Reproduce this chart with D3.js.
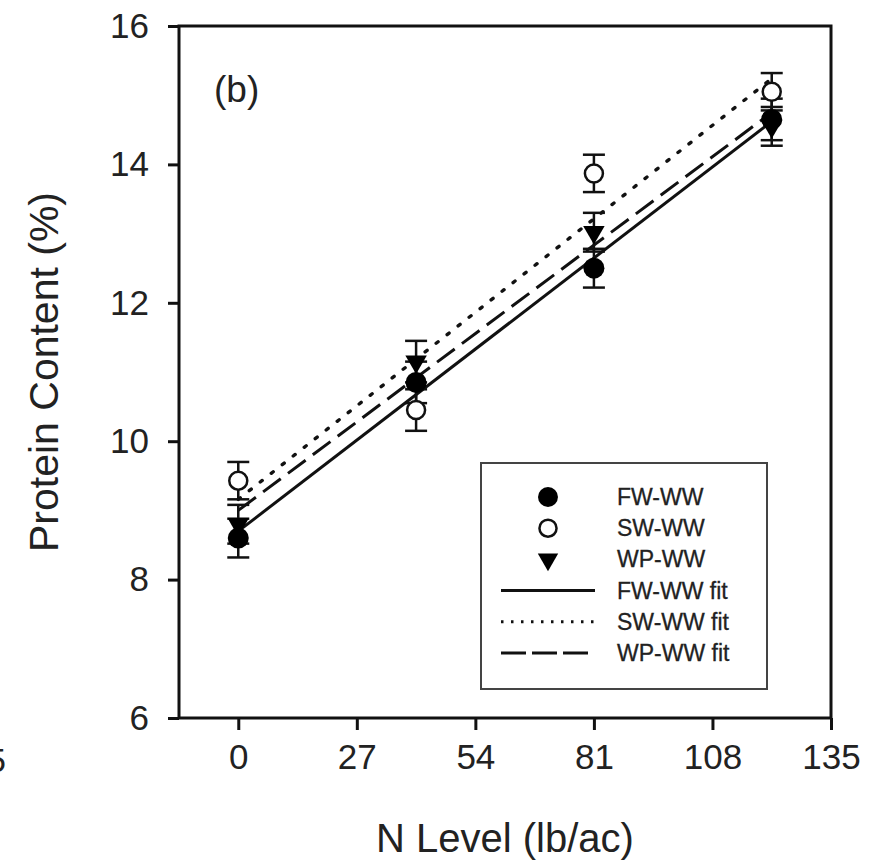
<!DOCTYPE html>
<html>
<head>
<meta charset="utf-8">
<script src="https://cdn.jsdelivr.net/npm/d3@7"></script>
<style>
  html, body { margin: 0; padding: 0; background: #fff; }
  svg { display: block; font-family: "Liberation Sans", Arial, sans-serif; }
</style>
</head>
<body>
<svg id="chart" width="875" height="861"></svg>
<script>
// N level (lb/ac) where each treatment was sampled
const nLevels = [0, 40.5, 81, 121.5];
const xTicks = [0, 27, 54, 81, 108, 135];
const yTicks = [6, 8, 10, 12, 14, 16];

const seriesNames = ["FW-WW", "SW-WW", "WP-WW"];
const fwMeans = [8.6, 10.85, 12.5, 14.65];
const fwErrors = [0.28, 0.3, 0.28, 0.3];
const swMeans = [9.43, 10.45, 13.87, 15.05];
const swErrors = [0.27, 0.3, 0.27, 0.27];
const wpMeans = [8.8, 11.15, 13.02, 14.55];
const wpErrors = [0.28, 0.3, 0.28, 0.28];

// fitted lines, read at N = 0 and N = 121.5
const fitRange = [0, 121.5];
const fwFit = [8.7, 14.62];
const swFit = [9.16, 15.24];
const wpFit = [9.0, 14.75];

const svg = d3.select("#chart");
const x = d3.scaleLinear().domain([-13.5, 135]).range([179, 831]);
const y = d3.scaleLinear().domain([6, 16]).range([718, 26]);

const series = [
  { name: seriesNames[0], means: fwMeans, errors: fwErrors, fit: fwFit, marker: "filled", dash: null },
  { name: seriesNames[1], means: swMeans, errors: swErrors, fit: swFit, marker: "open", dash: "2.5,11.5" },
  { name: seriesNames[2], means: wpMeans, errors: wpErrors, fit: wpFit, marker: "triangle", dash: "22,9" },
];

// tick label of the neighbouring panel, cut by the left edge as in the source
svg.append("text")
  .attr("x", 6).attr("y", 772)
  .attr("text-anchor", "end")
  .attr("font-size", 34)
  .attr("fill", "#222")
  .text("5");

// axes
const xAxis = svg.append("g")
  .attr("transform", `translate(0,${y(6)})`)
  .call(d3.axisBottom(x).tickValues(xTicks).tickSize(12).tickPadding(14).tickFormat(d3.format("d")));
const yAxis = svg.append("g")
  .attr("transform", `translate(${x(-13.5)},0)`)
  .call(d3.axisLeft(y).tickValues(yTicks).tickSize(11).tickPadding(19).tickFormat(d3.format("d")));

[xAxis, yAxis].forEach((axis) => {
  axis.select(".domain").remove();
  axis.selectAll(".tick line").attr("stroke", "#111").attr("stroke-width", 3);
  axis.selectAll(".tick text")
    .attr("font-size", 35)
    .attr("fill", "#222")
    .attr("font-family", "Liberation Sans, Arial, sans-serif");
});

svg.append("rect")
  .attr("x", x(-13.5)).attr("y", y(16))
  .attr("width", x(135) - x(-13.5))
  .attr("height", y(6) - y(16))
  .attr("fill", "none")
  .attr("stroke", "#111")
  .attr("stroke-width", 3);

// axis titles
svg.append("text")
  .attr("x", (x(-13.5) + x(135)) / 2).attr("y", 852)
  .attr("text-anchor", "middle")
  .attr("font-size", 40)
  .attr("fill", "#222")
  .text("N Level (lb/ac)");

svg.append("text")
  .attr("transform", `translate(58,${(y(6) + y(16)) / 2}) rotate(-90)`)
  .attr("text-anchor", "middle")
  .attr("font-size", 41)
  .attr("fill", "#222")
  .text("Protein Content (%)");

svg.append("text")
  .attr("x", 214).attr("y", 102)
  .attr("font-size", 37)
  .attr("fill", "#222")
  .text("(b)");

// fit lines
const fitLine = d3.line().x((d) => x(d[0])).y((d) => y(d[1]));
svg.append("g")
  .selectAll("path")
  .data(series)
  .join("path")
  .attr("d", (s) => fitLine(fitRange.map((n, i) => [n, s.fit[i]])))
  .attr("fill", "none")
  .attr("stroke", "#111")
  .attr("stroke-width", (s) => (s.marker === "open" ? 3.4 : 3))
  .attr("stroke-linecap", (s) => (s.marker === "open" ? "round" : "butt"))
  .attr("stroke-dasharray", (s) => s.dash);

// error bars
const capHalf = 11;
const errorGroup = svg.append("g").attr("stroke", "#111").attr("stroke-width", 2.5);
series.forEach((s) => {
  nLevels.forEach((n, i) => {
    const cx = x(n);
    const top = y(s.means[i] + s.errors[i]);
    const bottom = y(s.means[i] - s.errors[i]);
    errorGroup.append("line").attr("x1", cx).attr("x2", cx).attr("y1", top).attr("y2", bottom);
    errorGroup.append("line").attr("x1", cx - capHalf).attr("x2", cx + capHalf).attr("y1", top).attr("y2", top);
    errorGroup.append("line").attr("x1", cx - capHalf).attr("x2", cx + capHalf).attr("y1", bottom).attr("y2", bottom);
  });
});

function drawMarker(g, kind, cx, cy, scale = 1) {
  if (kind === "filled") {
    g.append("circle").attr("cx", cx).attr("cy", cy).attr("r", 10.5 * scale).attr("fill", "#000");
  } else if (kind === "open") {
    g.append("circle").attr("cx", cx).attr("cy", cy).attr("r", 9 * scale)
      .attr("fill", "#fff").attr("stroke", "#111").attr("stroke-width", 2.5);
  } else {
    g.append("path")
      .attr("d", d3.symbol(d3.symbolTriangle, 200 * scale * scale)())
      .attr("transform", `translate(${cx},${cy}) rotate(180)`)
      .attr("fill", "#000");
  }
}

const markerGroup = svg.append("g");
[series[2], series[0], series[1]].forEach((s) => {
  nLevels.forEach((n, i) => drawMarker(markerGroup, s.marker, x(n), y(s.means[i])));
});

// legend
const legend = svg.append("g");
legend.append("rect")
  .attr("x", 481).attr("y", 463).attr("width", 286).attr("height", 226)
  .attr("fill", "#fff").attr("stroke", "#444").attr("stroke-width", 2);

const legendRows = [
  ...series.map((s) => ({ label: s.name, marker: s.marker })),
  ...series.map((s) => ({ label: `${s.name} fit`, line: true, marker: s.marker })),
];
const rowY = d3.scalePoint().domain(d3.range(legendRows.length)).range([497, 653]);
const legendDash = { filled: null, open: "2.5,7.5", triangle: "25,6" };
legendRows.forEach((row, i) => {
  const ry = rowY(i);
  if (row.line) {
    legend.append("line")
      .attr("x1", 501).attr("x2", row.marker === "triangle" ? 588 : 595)
      .attr("y1", ry).attr("y2", ry)
      .attr("stroke", "#111")
      .attr("stroke-width", 3)
      .attr("stroke-dasharray", legendDash[row.marker]);
  } else {
    drawMarker(legend, row.marker, 548, ry, 0.95);
  }
  legend.append("text")
    .attr("x", 617).attr("y", ry + 8)
    .attr("font-size", 23)
    .attr("fill", "#222")
    .attr("stroke", "#222")
    .attr("stroke-width", 0.3)
    .text(row.label);
});
</script>
</body>
</html>
